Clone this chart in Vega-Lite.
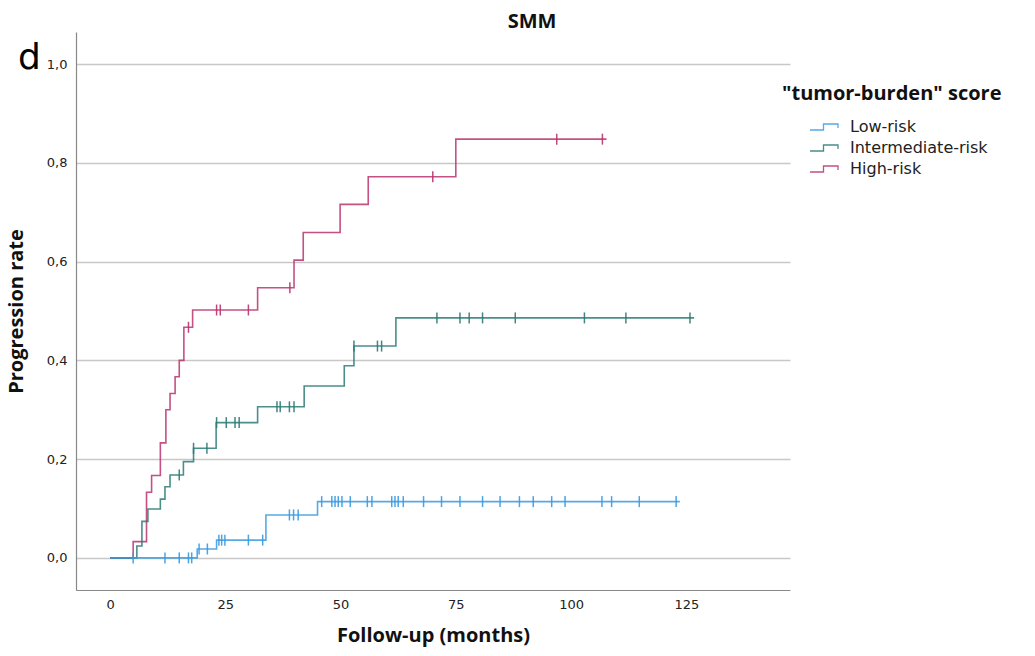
{
  "$schema": "https://vega.github.io/schema/vega-lite/v6.json",
  "width": 714,
  "height": 558,
  "autosize": {"type": "none"},
  "padding": {"left": 76, "top": 32, "right": 245, "bottom": 66},
  "background": "white",
  "title": {"text": "SMM", "font": "Open Sans", "fontSize": 20, "fontWeight": "bold", "color": "#111", "anchor": "middle", "dx": 99, "dy": 22, "offset": 2, "baseline": "bottom"},
  "config": {
    "view": {"stroke": null},
    "font": "Open Sans",
    "axis": {"labelFont": "DejaVu Sans", "labelFontSize": 13, "labelColor": "#222", "titleFont": "Open Sans", "titleFontSize": 20, "titleFontWeight": "bold", "titleColor": "#111", "domainColor": "#888", "domainWidth": 1.2, "ticks": false}
  },
  "datasets": {
    "steps": [
      {"g":"High-risk","t":0,"p":0},{"g":"High-risk","t":5.0,"p":0.033},{"g":"High-risk","t":7.9,"p":0.133},{"g":"High-risk","t":9.0,"p":0.167},{"g":"High-risk","t":10.9,"p":0.233},{"g":"High-risk","t":12.1,"p":0.300},{"g":"High-risk","t":13.0,"p":0.333},{"g":"High-risk","t":14.1,"p":0.367},{"g":"High-risk","t":15.0,"p":0.400},{"g":"High-risk","t":16.0,"p":0.467},{"g":"High-risk","t":17.9,"p":0.502},{"g":"High-risk","t":32.0,"p":0.547},{"g":"High-risk","t":39.9,"p":0.603},{"g":"High-risk","t":41.9,"p":0.659},{"g":"High-risk","t":49.9,"p":0.716},{"g":"High-risk","t":56.0,"p":0.772},{"g":"High-risk","t":75.0,"p":0.848},{"g":"High-risk","t":107.7,"p":0.848},
      {"g":"Intermediate-risk","t":0,"p":0},{"g":"Intermediate-risk","t":5.8,"p":0.024},{"g":"Intermediate-risk","t":6.9,"p":0.074},{"g":"Intermediate-risk","t":8.2,"p":0.099},{"g":"Intermediate-risk","t":10.9,"p":0.119},{"g":"Intermediate-risk","t":11.9,"p":0.144},{"g":"Intermediate-risk","t":13.0,"p":0.168},{"g":"Intermediate-risk","t":15.9,"p":0.195},{"g":"Intermediate-risk","t":18.1,"p":0.222},{"g":"Intermediate-risk","t":23.0,"p":0.274},{"g":"Intermediate-risk","t":32.0,"p":0.306},{"g":"Intermediate-risk","t":42.1,"p":0.348},{"g":"Intermediate-risk","t":50.8,"p":0.389},{"g":"Intermediate-risk","t":52.9,"p":0.429},{"g":"Intermediate-risk","t":62.0,"p":0.486},{"g":"Intermediate-risk","t":126.7,"p":0.486},
      {"g":"Low-risk","t":0,"p":0},{"g":"Low-risk","t":18.9,"p":0.018},{"g":"Low-risk","t":23.1,"p":0.036},{"g":"Low-risk","t":33.8,"p":0.087},{"g":"Low-risk","t":45.0,"p":0.114},{"g":"Low-risk","t":123.6,"p":0.114}
    ],
    "censors": [
      {"g":"High-risk","t":17.0,"p":0.467},{"g":"High-risk","t":23.1,"p":0.502},{"g":"High-risk","t":23.9,"p":0.502},{"g":"High-risk","t":30.0,"p":0.502},{"g":"High-risk","t":39.0,"p":0.547},{"g":"High-risk","t":70.0,"p":0.772},{"g":"High-risk","t":96.9,"p":0.848},{"g":"High-risk","t":106.8,"p":0.848},
      {"g":"Intermediate-risk","t":15.0,"p":0.168},{"g":"Intermediate-risk","t":18.1,"p":0.222},{"g":"Intermediate-risk","t":21.0,"p":0.222},{"g":"Intermediate-risk","t":23.1,"p":0.274},{"g":"Intermediate-risk","t":25.2,"p":0.274},{"g":"Intermediate-risk","t":27.1,"p":0.274},{"g":"Intermediate-risk","t":28.0,"p":0.274},{"g":"Intermediate-risk","t":36.2,"p":0.306},{"g":"Intermediate-risk","t":36.9,"p":0.306},{"g":"Intermediate-risk","t":38.9,"p":0.306},{"g":"Intermediate-risk","t":39.9,"p":0.306},{"g":"Intermediate-risk","t":52.9,"p":0.429},{"g":"Intermediate-risk","t":58.0,"p":0.429},{"g":"Intermediate-risk","t":58.9,"p":0.429},{"g":"Intermediate-risk","t":70.9,"p":0.486},{"g":"Intermediate-risk","t":75.9,"p":0.486},{"g":"Intermediate-risk","t":77.9,"p":0.486},{"g":"Intermediate-risk","t":80.8,"p":0.486},{"g":"Intermediate-risk","t":87.9,"p":0.486},{"g":"Intermediate-risk","t":102.9,"p":0.486},{"g":"Intermediate-risk","t":111.9,"p":0.486},{"g":"Intermediate-risk","t":125.8,"p":0.486},
      {"g":"Low-risk","t":5.0,"p":0},{"g":"Low-risk","t":11.9,"p":0},{"g":"Low-risk","t":15.0,"p":0},{"g":"Low-risk","t":17.0,"p":0},{"g":"Low-risk","t":17.7,"p":0},{"g":"Low-risk","t":19.3,"p":0.018},{"g":"Low-risk","t":21.1,"p":0.018},{"g":"Low-risk","t":23.6,"p":0.036},{"g":"Low-risk","t":24.2,"p":0.036},{"g":"Low-risk","t":24.9,"p":0.036},{"g":"Low-risk","t":30.0,"p":0.036},{"g":"Low-risk","t":33.1,"p":0.036},{"g":"Low-risk","t":38.9,"p":0.087},{"g":"Low-risk","t":39.8,"p":0.087},{"g":"Low-risk","t":40.8,"p":0.087},{"g":"Low-risk","t":45.9,"p":0.114},{"g":"Low-risk","t":48.1,"p":0.114},{"g":"Low-risk","t":48.8,"p":0.114},{"g":"Low-risk","t":49.5,"p":0.114},{"g":"Low-risk","t":50.3,"p":0.114},{"g":"Low-risk","t":52.1,"p":0.114},{"g":"Low-risk","t":55.8,"p":0.114},{"g":"Low-risk","t":56.8,"p":0.114},{"g":"Low-risk","t":61.1,"p":0.114},{"g":"Low-risk","t":61.8,"p":0.114},{"g":"Low-risk","t":62.5,"p":0.114},{"g":"Low-risk","t":63.6,"p":0.114},{"g":"Low-risk","t":68.0,"p":0.114},{"g":"Low-risk","t":71.9,"p":0.114},{"g":"Low-risk","t":75.9,"p":0.114},{"g":"Low-risk","t":80.8,"p":0.114},{"g":"Low-risk","t":84.6,"p":0.114},{"g":"Low-risk","t":88.8,"p":0.114},{"g":"Low-risk","t":91.8,"p":0.114},{"g":"Low-risk","t":95.8,"p":0.114},{"g":"Low-risk","t":98.7,"p":0.114},{"g":"Low-risk","t":106.7,"p":0.114},{"g":"Low-risk","t":108.8,"p":0.114},{"g":"Low-risk","t":114.8,"p":0.114},{"g":"Low-risk","t":122.8,"p":0.114}
    ],
    "panel": [{"label": "d", "t": -17.5, "p": 1.012}]
  },
  "layer": [
    {
      "data": {"name": "steps"},
      "mark": {"type": "line", "interpolate": "step-after", "strokeWidth": 1.6, "opacity": 0.85},
      "encoding": {
        "x": {"field": "t", "type": "quantitative", "scale": {"domain": [-7.4, 147.5], "nice": false, "zero": false},
              "axis": {"values": [0, 25, 50, 75, 100, 125], "grid": false, "title": "Follow-up (months)", "labelPadding": 8, "titlePadding": 14}},
        "y": {"field": "p", "type": "quantitative", "scale": {"domain": [-0.065, 1.065], "nice": false, "zero": false},
              "axis": {"values": [0, 0.2, 0.4, 0.6, 0.8, 1.0], "grid": true, "gridColor": "#c8c8c8", "gridWidth": 1.5, "labelExpr": "replace(format(datum.value, '.1f'), '.', ',')", "title": "Progression rate", "labelPadding": 9, "titlePadding": 20}},
        "color": {"field": "g", "type": "nominal",
                  "scale": {"domain": ["Low-risk", "Intermediate-risk", "High-risk"], "range": ["#3a9ae0", "#2b7a76", "#b9336f"]},
                  "legend": {"title": "\"tumor-burden\" score", "orient": "none", "legendX": 706, "legendY": 52,
                             "titleFont": "Open Sans", "titleFontSize": 20, "titleFontWeight": "bold", "titleColor": "#111", "titlePadding": 12, "titleLimit": 400,
                             "labelFont": "DejaVu Sans", "labelFontSize": 16, "labelColor": "#222", "labelOffset": 14, "labelLimit": 400,
                             "symbolType": "M-1.5,0.3H-0.15V-0.3H1.3V0.1V-0.3H-0.15V0.3Z", "symbolSize": 400, "symbolStrokeWidth": 1.3, "symbolOffset": 32,
                             "rowPadding": 2, "padding": 0, "offset": 0,
                             "encode": {"symbols": {"update": {"fill": {"value": "transparent"}, "fillOpacity": {"value": 0}}}}}}
      }
    },
    {
      "data": {"name": "censors"},
      "mark": {"type": "tick", "orient": "vertical", "size": 11, "thickness": 1.5, "opacity": 0.9},
      "encoding": {
        "x": {"field": "t", "type": "quantitative"},
        "y": {"field": "p", "type": "quantitative"},
        "color": {"field": "g", "type": "nominal", "legend": null}
      }
    },
    {
      "data": {"name": "panel"},
      "mark": {"type": "text", "fontSize": 36, "font": "DejaVu Sans", "color": "#000", "clip": false, "align": "center", "baseline": "middle"},
      "encoding": {
        "x": {"field": "t", "type": "quantitative"},
        "y": {"field": "p", "type": "quantitative"},
        "text": {"field": "label"}
      }
    }
  ]
}
